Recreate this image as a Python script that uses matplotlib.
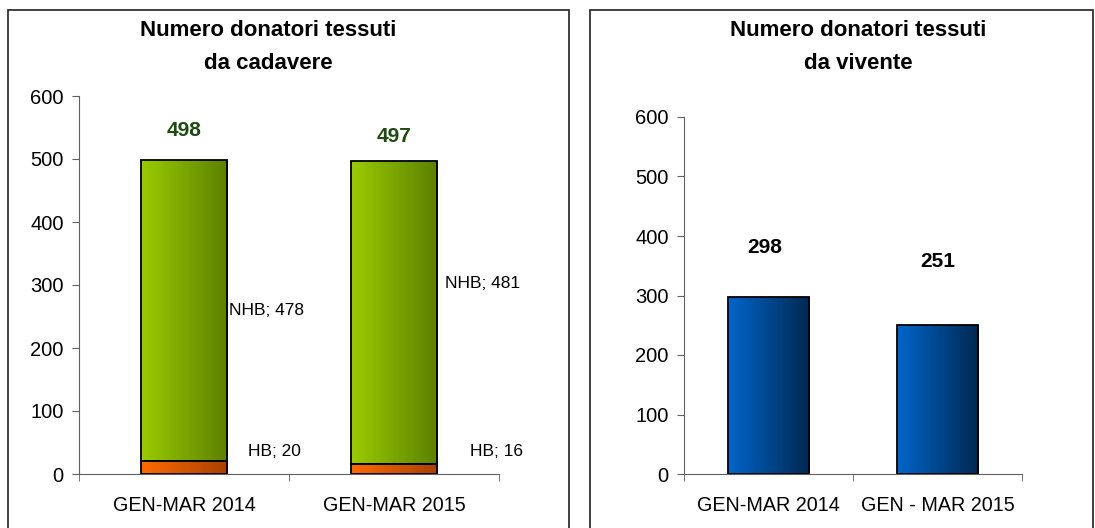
import matplotlib
matplotlib.use("Agg")
import matplotlib.pyplot as plt
import numpy as np
from matplotlib.colors import LinearSegmentedColormap
from matplotlib.patches import Rectangle

plt.rcParams['font.family'] = ['Liberation Sans', 'DejaVu Sans']

# data
categories_left = ['GEN-MAR 2014', 'GEN-MAR 2015']
hb = [20, 16]
nhb = [478, 481]
totals_left = [498, 497]

categories_right = ['GEN-MAR 2014', 'GEN - MAR 2015']
vivente = [298, 251]

W, H = 1095, 528
fig = plt.figure(figsize=(W / 100, H / 100), dpi=100)

# panel frames
fig.patches.append(Rectangle((8 / W, -0.05), 561 / W, (H - 10) / H + 0.05,
                             transform=fig.transFigure, fill=False,
                             edgecolor='#202020', lw=1.2))
fig.patches.append(Rectangle((590 / W, -0.05), 503 / W, (H - 10) / H + 0.05,
                             transform=fig.transFigure, fill=False,
                             edgecolor='#202020', lw=1.2))


def gradient_bars(ax, bars, c1, c2):
    cmap = LinearSegmentedColormap.from_list('g', [c1, c2])
    grad = np.linspace(0, 1, 256).reshape(1, -1)
    for b in bars:
        x0, y0 = b.get_x(), b.get_y()
        w, h = b.get_width(), b.get_height()
        im = ax.imshow(grad, cmap=cmap, aspect='auto', interpolation='bilinear',
                       extent=(x0, x0 + w, y0, y0 + h), zorder=2)
        im.set_clip_path(b)
        b.set_facecolor('none')
        b.set_zorder(3)


def style_axis(ax, labels):
    ax.set_xlim(-0.5, 1.5)
    ax.set_ylim(0, 600)
    ax.set_yticks(range(0, 601, 100))
    ax.set_xticks([0, 1])
    ax.set_xticklabels(labels, fontsize=14.2)
    ax.set_xticks([-0.5, 0.5, 1.5], minor=True)
    ax.tick_params(axis='x', which='major', length=0, pad=16)
    ax.tick_params(axis='x', which='minor', length=5, direction='out', color='#606060')
    ax.tick_params(axis='y', length=5, direction='out', color='#606060', labelsize=14.5, pad=6)
    for s in ['top', 'right']:
        ax.spines[s].set_visible(False)
    for s in ['left', 'bottom']:
        ax.spines[s].set_color('#606060')
    ax.set_autoscale_on(False)


# left chart: stacked HB / NHB
ax1 = fig.add_axes([79 / W, 54 / H, 420 / W, 378 / H])
x = np.arange(len(categories_left))
b_hb = ax1.bar(x, hb, width=0.41, edgecolor='black', lw=1.3)
b_nhb = ax1.bar(x, nhb, bottom=hb, width=0.41, edgecolor='black', lw=1.3)
style_axis(ax1, categories_left)
gradient_bars(ax1, b_hb, '#ff6a00', '#a84000')
gradient_bars(ax1, b_nhb, '#9acc00', '#5c8000')

total_offsets = [30, 24]
for i, t in enumerate(totals_left):
    ax1.annotate(str(t), (x[i], t), xytext=(0, total_offsets[i]), textcoords='offset pixels',
                 ha='center', va='center', fontsize=15, fontweight='bold', color='#1f4a12')
nhb_label_y = [260, 303]
nhb_label_dx = [2, 8]
for i, v in enumerate(nhb):
    ax1.annotate('NHB; %d' % v, (x[i] + 0.205, nhb_label_y[i]), xytext=(nhb_label_dx[i], 0),
                 textcoords='offset pixels', ha='left', va='center', fontsize=12.5)
hb_label_dx = [21, 33]
for i, v in enumerate(hb):
    ax1.annotate('HB; %d' % v, (x[i] + 0.205, 36), xytext=(hb_label_dx[i], 0),
                 textcoords='offset pixels', ha='left', va='center', fontsize=12.5)

fig.text(268 / W, 1 - 47 / H, 'Numero donatori tessuti\nda cadavere', ha='center', va='center',
         fontsize=16, fontweight='bold', linespacing=1.7)

# right chart: vivente
ax2 = fig.add_axes([684 / W, 54 / H, 338 / W, 357 / H])
x2 = np.arange(len(categories_right))
b_viv = ax2.bar(x2, vivente, width=0.485, edgecolor='black', lw=1.3)
style_axis(ax2, categories_right)
gradient_bars(ax2, b_viv, '#0066cc', '#002850')
viv_offsets = [49, 63]
for i, v in enumerate(vivente):
    ax2.annotate(str(v), (x2[i], v), xytext=(-4 if i == 0 else 0, viv_offsets[i]),
                 textcoords='offset pixels', ha='center', va='center',
                 fontsize=15, fontweight='bold', color='black')

fig.text(858 / W, 1 - 47 / H, 'Numero donatori tessuti\nda vivente', ha='center', va='center',
         fontsize=16, fontweight='bold', linespacing=1.7)

fig.savefig('out.png', dpi=100)
